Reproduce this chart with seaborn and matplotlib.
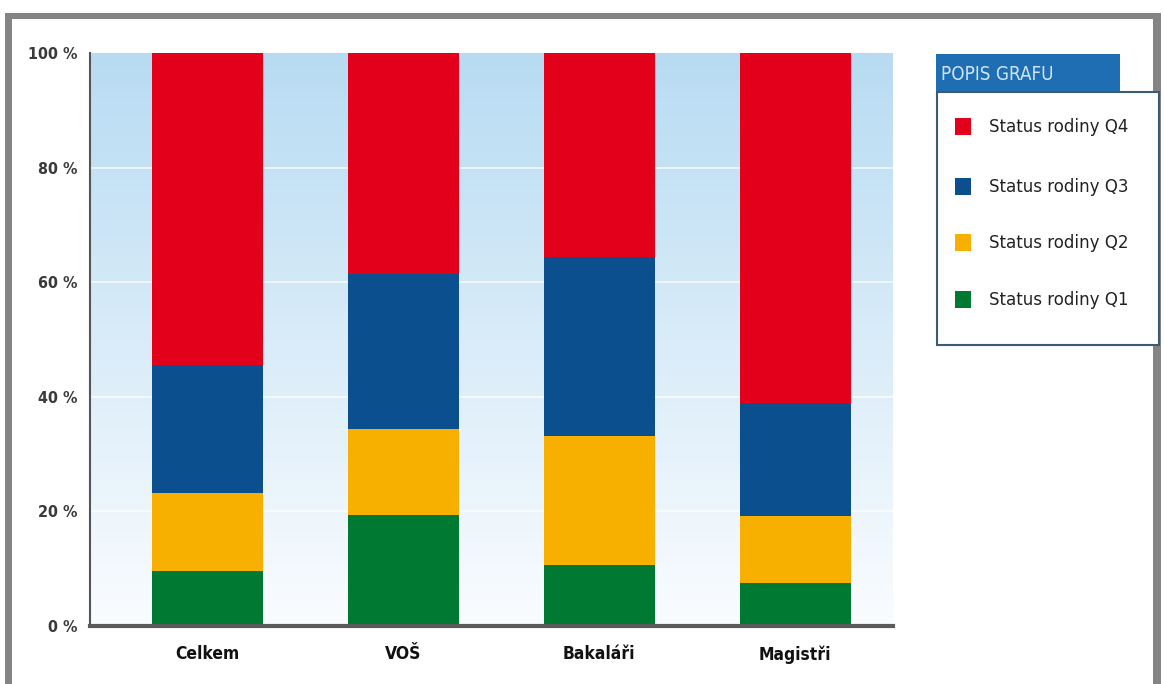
import numpy as np
import pandas as pd
import matplotlib
matplotlib.use("Agg")
import matplotlib.pyplot as plt
from matplotlib.patches import Rectangle
import seaborn as sns

# ---- data ----
categories = ["Celkem", "VOŠ", "Bakaláři", "Magistři"]
q1 = [9.6, 19.4, 10.6, 7.5]
q2 = [13.6, 15.0, 22.6, 11.7]
q3 = [22.3, 27.0, 31.2, 19.7]
q4 = [54.5, 38.6, 35.6, 61.1]
series_labels = ["Status rodiny Q1", "Status rodiny Q2", "Status rodiny Q3", "Status rodiny Q4"]
y_ticks = [0, 20, 40, 60, 80, 100]
y_tick_labels = ["0 %", "20 %", "40 %", "60 %", "80 %", "100 %"]
legend_title = "POPIS GRAFU"

colors = {"Status rodiny Q1": "#007a33", "Status rodiny Q2": "#f7b000",
          "Status rodiny Q3": "#0b4f8f", "Status rodiny Q4": "#e2001a"}

sns.set_theme(style="white")
plt.rcParams["font.family"] = ["DejaVu Sans"]
plt.rcParams["font.stretch"] = "condensed"

W, H = 1164, 684
fig = plt.figure(figsize=(W / 100, H / 100), dpi=100)
fig.patch.set_facecolor("white")

def fx(x):
    return x / W

def fy(y):
    return 1 - y / H

# outer gray frame
gray = "#848484"
fig.add_artist(Rectangle((fx(5), fy(19)), fx(1156), 6 / H, transform=fig.transFigure, color=gray, lw=0))
fig.add_artist(Rectangle((fx(5), 0), fx(7), fy(19), transform=fig.transFigure, color=gray, lw=0))
fig.add_artist(Rectangle((fx(1153), 0), fx(8), fy(19), transform=fig.transFigure, color=gray, lw=0))

ax = fig.add_axes([fx(90), fy(626), fx(803), 573 / H])

# background gradient
grad = np.linspace(0, 1, 256).reshape(-1, 1)
top_c = np.array([0.72, 0.86, 0.95])
bot_c = np.array([0.98, 0.99, 1.0])
img = (top_c[None, None, :] * (1 - grad[..., None]) + bot_c[None, None, :] * grad[..., None])
ax.imshow(img, extent=(-0.6, 3.5, 0, 100), aspect="auto", zorder=0, origin="upper")

for t in y_ticks[1:-1]:
    ax.axhline(t, color="white", lw=1.2, alpha=0.8, zorder=0.5)

# stacked bars via cumulative layers
df = pd.DataFrame({"cat": categories, "Status rodiny Q1": q1, "Status rodiny Q2": q2,
                   "Status rodiny Q3": q3, "Status rodiny Q4": q4})
cum = df[series_labels].cumsum(axis=1)
for s in reversed(series_labels):
    sns.barplot(x=df["cat"], y=cum[s], color=colors[s], width=0.567, ax=ax,
                saturation=1, zorder=2, order=categories, linewidth=0, edgecolor="none")

ax.set_xlim(-0.6, 3.5)
ax.set_ylim(0, 100)
ax.set_yticks(y_ticks)
ax.set_yticklabels(y_tick_labels, fontsize=11.5, color="#3a3a3a", fontweight="bold")
ax.set_xticks(range(len(categories)))
ax.set_xticklabels(categories, fontsize=12.5, fontweight="bold", color="#111111")
ax.tick_params(axis="y", length=0, pad=9)
ax.tick_params(axis="x", length=0, pad=14)
ax.set_xlabel("")
ax.set_ylabel("")
for side in ["top", "right"]:
    ax.spines[side].set_visible(False)
ax.spines["left"].set_color("#555555")
ax.spines["left"].set_linewidth(1.5)
ax.spines["bottom"].set_color("#5a5a5a")
ax.spines["bottom"].set_linewidth(3)
ax.spines["bottom"].set_zorder(5)

# legend: header tab + box
fig.add_artist(Rectangle((fx(936), fy(92)), fx(184), 38 / H, transform=fig.transFigure,
                         color="#1f6db3", lw=0))
fig.text(fx(941), fy(74), legend_title, color="#cfe6f7", fontsize=13.5, va="center", ha="left")
fig.add_artist(Rectangle((fx(937), fy(345)), fx(222), 253 / H, transform=fig.transFigure,
                         facecolor="white", edgecolor="#3d5a73", lw=1.5))
entry_y = [127, 187, 243, 300]
for s, yy in zip(reversed(series_labels), entry_y):
    fig.add_artist(Rectangle((fx(955), fy(yy + 8)), fx(16), 17 / H, transform=fig.transFigure,
                             color=colors[s], lw=0))
    fig.text(fx(989), fy(yy), s, fontsize=13.3, color="#222222", va="center", ha="left")

fig.savefig("out.png", dpi=100)
